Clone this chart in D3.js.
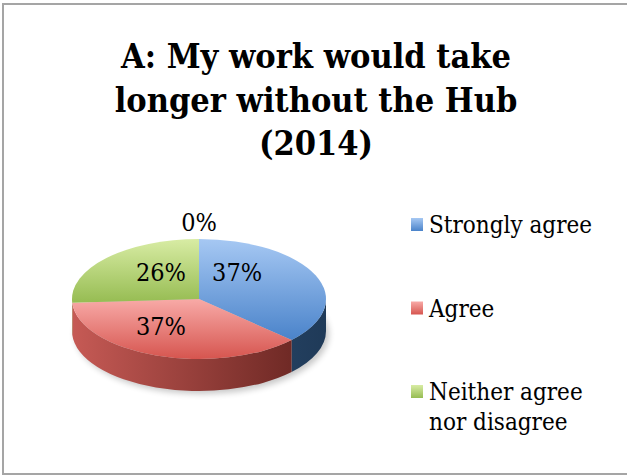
<!DOCTYPE html>
<html>
<head>
<meta charset="utf-8">
<script src="https://cdn.jsdelivr.net/npm/d3@7"></script>
<style>
  html, body { margin: 0; padding: 0; background: #fff; }
  svg { display: block; }
  text { font-family: "DejaVu Serif Condensed", "DejaVu Serif", "Liberation Serif", serif; fill: #000; }
</style>
</head>
<body>
<svg id="chart" width="627" height="476"></svg>
<script>
// Survey answers, 2014
const titleLines = ["A: My work would take", "longer without the Hub", "(2014)"];
const categories = ["Strongly agree", "Agree", "Neither agree nor disagree", "Disagree"];
const legendLines = [["Strongly agree"], ["Agree"], ["Neither agree", "nor disagree"]];
const values = [37, 37, 26, 0];
const percentLabels = ["37%", "37%", "26%", "0%"];

// face colours: [top light, top dark, side light, side dark]
const palette = [
  ["#a6c8f3", "#4a83ca", "#3a5d86", "#1f3a58"],
  ["#f8aaa7", "#d6554f", "#c65a55", "#62221e"],
  ["#d8eca4", "#96bc52", "#7f9a47", "#56692c"],
  ["#c9b3de", "#8064a2", "#66508a", "#3f2f57"]
];

const W = 627, H = 476;
const svg = d3.select("#chart");
const defs = svg.append("defs");

// outer frame
svg.append("rect")
  .attr("x", 3).attr("y", 4).attr("width", W + 4).attr("height", H - 6)
  .attr("fill", "#fff").attr("stroke", "#a5a5a5").attr("stroke-width", 2);

// title
svg.append("g").selectAll("text").data(titleLines).join("text")
  .attr("x", 316).attr("y", (d, i) => 68 + i * 43.5)
  .attr("text-anchor", "middle")
  .attr("font-weight", "bold").attr("font-size", 34)
  .text(d => d);

// pie geometry
const cx = 199, cy = 299, rx = 127, ry = 60, depth = 32;
const k = ry / rx;                 // vertical squash of the tilted disc
const D = depth / k;               // wall height in unsquashed units

const pie = d3.pie().sort(null).value(d => d)(values);

// gradients
palette.forEach((c, i) => {
  const gt = defs.append("linearGradient").attr("id", "top" + i)
    .attr("x1", 0).attr("y1", 0).attr("x2", 0).attr("y2", 1);
  gt.append("stop").attr("offset", "0%").attr("stop-color", c[0]);
  gt.append("stop").attr("offset", "100%").attr("stop-color", c[1]);
  const gs = defs.append("linearGradient").attr("id", "side" + i)
    .attr("gradientUnits", "userSpaceOnUse")
    .attr("x1", -rx).attr("y1", 0).attr("x2", rx).attr("y2", 0);
  gs.append("stop").attr("offset", "0%").attr("stop-color", c[2]);
  gs.append("stop").attr("offset", "100%").attr("stop-color", c[3]);
});

defs.append("filter").attr("id", "soft").attr("x", "-20%").attr("y", "-50%")
  .attr("width", "140%").attr("height", "200%")
  .append("feGaussianBlur").attr("stdDeviation", 3);

// drop shadow under the disc
svg.append("ellipse")
  .attr("cx", cx + 3).attr("cy", cy + depth + 3)
  .attr("rx", rx).attr("ry", ry)
  .attr("fill", "#000").attr("opacity", 0.22)
  .attr("filter", "url(#soft)");

const g = svg.append("g").attr("transform", `translate(${cx},${cy}) scale(1,${k})`);

// side walls: only the front half (angles between pi/2 and 3pi/2) is visible
function wallPath(a0, a1) {
  const p = d3.path();
  const s0 = a0 - Math.PI / 2, s1 = a1 - Math.PI / 2;
  p.moveTo(rx * Math.cos(s0), rx * Math.sin(s0));
  p.arc(0, 0, rx, s0, s1);
  p.lineTo(rx * Math.cos(s1), rx * Math.sin(s1) + D);
  p.arc(0, D, rx, s1, s0, true);
  p.closePath();
  return p.toString();
}

const walls = pie.map((d, i) => {
  const a0 = Math.max(d.startAngle, Math.PI / 2);
  const a1 = Math.min(d.endAngle, 3 * Math.PI / 2);
  return { i, a0, a1 };
}).filter(w => w.a1 > w.a0);

g.append("g").selectAll("path").data(walls).join("path")
  .attr("d", w => wallPath(w.a0, w.a1))
  .attr("fill", w => `url(#side${w.i})`);

// top faces
const arc = d3.arc().innerRadius(0).outerRadius(rx);
g.append("g").selectAll("path").data(pie.filter(d => d.value > 0)).join("path")
  .attr("d", arc)
  .attr("fill", d => `url(#top${d.index})`);

// percentage labels: each sits in its slice's quadrant, a zero slice sits above the rim
const mid = d => (d.startAngle + d.endAngle) / 2;
svg.append("g").selectAll("text").data(pie).join("text")
  .attr("x", d => d.value === 0 ? cx : cx + Math.sign(Math.sin(mid(d))) * 0.3 * rx)
  .attr("y", d => d.value === 0 ? cy - ry - 8 : cy - Math.sign(Math.cos(mid(d))) * 0.45 * ry + 9)
  .attr("text-anchor", "middle")
  .attr("font-size", 25)
  .text((d, i) => percentLabels[i]);

// legend
const legendY = d3.scalePoint().domain(d3.range(legendLines.length)).range([233, 400]);
const lg = svg.append("g").selectAll("g").data(legendLines).join("g")
  .attr("transform", (d, i) => `translate(411,${legendY(i)})`);
lg.append("rect")
  .attr("x", 0).attr("y", -15).attr("width", 12).attr("height", 13)
  .attr("fill", (d, i) => `url(#top${i})`);
lg.selectAll("text").data(d => d).join("text")
  .attr("x", 18).attr("y", (d, j) => j * 30)
  .attr("font-size", 24)
  .text(d => d);
</script>
</body>
</html>
